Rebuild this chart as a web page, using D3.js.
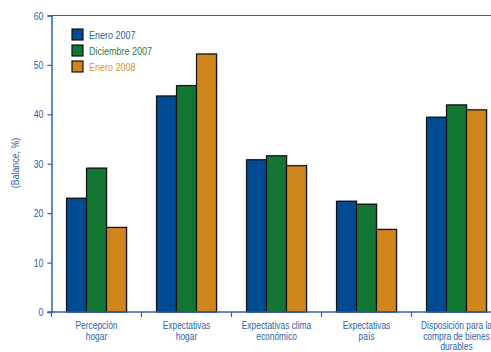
<!DOCTYPE html>
<html><head><meta charset="utf-8">
<script src="https://cdn.jsdelivr.net/npm/d3@7"></script>
<style>
body{margin:0;background:#fff;}
text{font-family:"Liberation Sans",Arial,sans-serif;}
</style></head>
<body><svg id="c" width="491" height="352"></svg>
<script>
const categories = [["Percepción","hogar"],["Expectativas","hogar"],["Expectativas clima","económico"],["Expectativas","país"],["Disposición para la","compra de bienes","durables"]];
const seriesNames = ["Enero 2007","Diciembre 2007","Enero 2008"];
const enero2007 = [23.0, 43.7, 30.8, 22.4, 39.4];
const diciembre2007 = [29.1, 45.8, 31.6, 21.8, 41.9];
const enero2008 = [17.1, 52.2, 29.6, 16.7, 40.9];
const yTicks = [0,10,20,30,40,50,60];
const colors = ["#004b93","#137632","#d0861b"];
const textColors = ["#2a5ea6","#2a8040","#d9962e"];
const axisColor = "#2b63aa";
const series = [enero2007, diciembre2007, enero2008];
const SX = 0.8;

const svg = d3.select("#c");
const x0 = 51.5, x1 = 501.5, y0 = 312, y1 = 15.5;
const x = d3.scaleBand().domain(d3.range(categories.length)).range([x0,x1]).padding(0);
const xs = d3.scaleBand().domain(d3.range(3)).range([15,75]).padding(0);
const y = d3.scaleLinear().domain([0,60]).range([y0,y1]);

// bars with shadow
const g = svg.append("g");
series.forEach((vals,si)=>{
  g.selectAll(null).data(vals).enter().append("rect")
    .attr("x",(d,i)=>x(i)+xs(si)+1).attr("y",d=>y(d)-1)
    .attr("width",xs.bandwidth()).attr("height",d=>y0-y(d)+1)
    .attr("fill","#777").attr("opacity",0.5);
});
series.forEach((vals,si)=>{
  g.selectAll(null).data(vals).enter().append("rect")
    .attr("x",(d,i)=>x(i)+xs(si)).attr("y",d=>y(d))
    .attr("width",xs.bandwidth()).attr("height",d=>y0-y(d))
    .attr("fill",colors[si]).attr("stroke","#111").attr("stroke-width",1.2);
});

// top line
svg.append("line").attr("x1",x0).attr("x2",491).attr("y1",y1).attr("y2",y1)
  .attr("stroke",axisColor).attr("stroke-width",1.2);

// y axis
const ya = svg.append("g").attr("transform",`translate(${x0},0)`)
  .call(d3.axisLeft(y).tickValues(yTicks).tickSize(4).tickPadding(4).tickFormat(d3.format("d")));
ya.select(".domain").attr("stroke",axisColor).attr("stroke-width",1.5);
ya.selectAll(".tick line").attr("stroke",axisColor).attr("stroke-width",1.2);
ya.selectAll(".tick text").attr("fill",axisColor).style("font-size","11px")
  .style("font-family",'"Liberation Sans",Arial,sans-serif')
  .attr("x",null).attr("transform",`translate(-8,0) scale(${SX},1)`);

// x axis
const xa = svg.append("g").attr("transform",`translate(0,${y0})`);
xa.append("line").attr("x1",x0-4).attr("x2",491).attr("stroke",axisColor).attr("stroke-width",1.5);
const bounds = d3.range(categories.length).map(i=>x(i));
xa.selectAll(".tk").data(bounds).enter().append("line")
  .attr("x1",d=>d).attr("x2",d=>d).attr("y1",0).attr("y2",5)
  .attr("stroke",axisColor).attr("stroke-width",1.2);
categories.forEach((lines,i)=>{
  const cx = x(i)+x.bandwidth()/2;
  const t = xa.append("text").attr("text-anchor","middle").attr("fill",axisColor)
    .style("font-size","10.5px").attr("transform",`translate(${cx},17) scale(${SX},1)`);
  lines.forEach((l,k)=>t.append("tspan").attr("x",0).attr("dy",k===0?0:10.7).text(l));
});

// y label
svg.append("text").attr("transform",`translate(19,163) rotate(-90) scale(0.88,1)`)
  .attr("text-anchor","middle").attr("fill",axisColor).style("font-size","10px").text("(Balance, %)");

// legend
const lg = svg.append("g").attr("transform","translate(72,29)");
seriesNames.forEach((n,i)=>{
  lg.append("rect").attr("x",0).attr("y",i*16).attr("width",11).attr("height",11)
    .attr("fill",colors[i]).attr("stroke","#111").attr("stroke-width",1.2);
  lg.append("text").attr("transform",`translate(17,${i*16+9.5}) scale(0.82,1)`).attr("fill",textColors[i])
    .style("font-size","11px").text(n);
});
</script></body></html>
